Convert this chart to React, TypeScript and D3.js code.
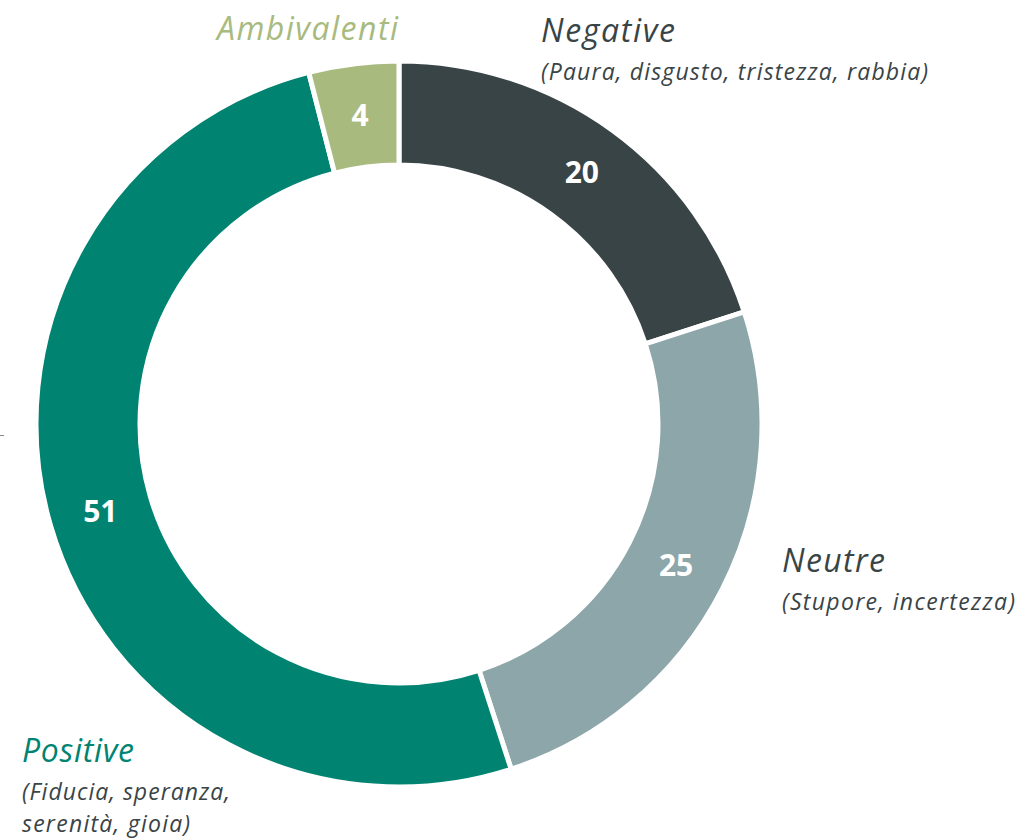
import React from 'react';
import * as d3 from 'd3';

// Emotion categories, clockwise from 12 o'clock
const categories = ['Negative', 'Neutre', 'Positive', 'Ambivalenti'];
const values = [20, 25, 51, 4];
const subtitles = [
  ['(Paura, disgusto, tristezza, rabbia)'],
  ['(Stupore, incertezza)'],
  ['(Fiducia, speranza,', 'serenità, gioia)'],
  [],
];
const sliceColors = ['#394446', '#8DA6AA', '#008471', '#A9BA7E'];
const labelColors = ['#394446', '#394446', '#008471', '#A9BA7E'];

// label anchors (title baseline) and measured text widths
const labelPos: Array<[number, number]> = [
  [541, 42],
  [782, 572],
  [22, 762],
  [217, 40],
];
const titleWidths = [134, 103, 112, 181];
const subWidths = [[387], [233], [208, 168], []];

const W = 1020;
const H = 840;
const cx = 399;
const cy = 424;
const outerR = 363;
const innerR = 259;
const FONT = '"Open Sans", "DejaVu Sans", sans-serif';

export default function App() {
  const pie = d3
    .pie<number>()
    .sort(null)
    .value((d) => d);
  const arcs = pie(values);
  const arc = d3.arc<d3.PieArcDatum<number>>().innerRadius(innerR).outerRadius(outerR);
  const labelArc = d3
    .arc<d3.PieArcDatum<number>>()
    .innerRadius((innerR + outerR) / 2)
    .outerRadius((innerR + outerR) / 2);

  return (
    <svg
      width={W}
      height={H}
      style={{ position: 'absolute', top: 0, left: 0, background: '#fff' }}
    >
      <line x1={0} x2={4} y1={435.5} y2={435.5} stroke="#888" strokeWidth={1} />
      <g transform={`translate(${cx},${cy})`}>
        {arcs.map((a, i) => (
          <path
            key={categories[i]}
            d={arc(a) || ''}
            fill={sliceColors[i]}
            stroke="#fff"
            strokeWidth={5}
            strokeLinejoin="miter"
          />
        ))}
        {arcs.map((a, i) => {
          const [x, y] = labelArc.centroid(a);
          return (
            <text
              key={'v' + i}
              x={x}
              y={y}
              dy="0.36em"
              textAnchor="middle"
              fill="#fff"
              fontFamily={FONT}
              fontWeight={700}
              fontSize={30}
            >
              {values[i]}
            </text>
          );
        })}
      </g>
      {categories.map((c, i) => {
        const [x, y] = labelPos[i];
        return (
          <g key={'l' + c}>
            <text
              x={x}
              y={y}
              fill={labelColors[i]}
              fontFamily={FONT}
              fontStyle="italic"
              fontSize={32}
              textLength={titleWidths[i]}
              lengthAdjust="spacing"
            >
              {c}
            </text>
            {subtitles[i].map((s, j) => (
              <text
                key={j}
                x={x}
                y={y + 38 + j * 32}
                fill="#394446"
                fontFamily={FONT}
                fontStyle="italic"
                fontSize={23}
                textLength={subWidths[i][j]}
                lengthAdjust="spacing"
              >
                {s}
              </text>
            ))}
          </g>
        );
      })}
    </svg>
  );
}
